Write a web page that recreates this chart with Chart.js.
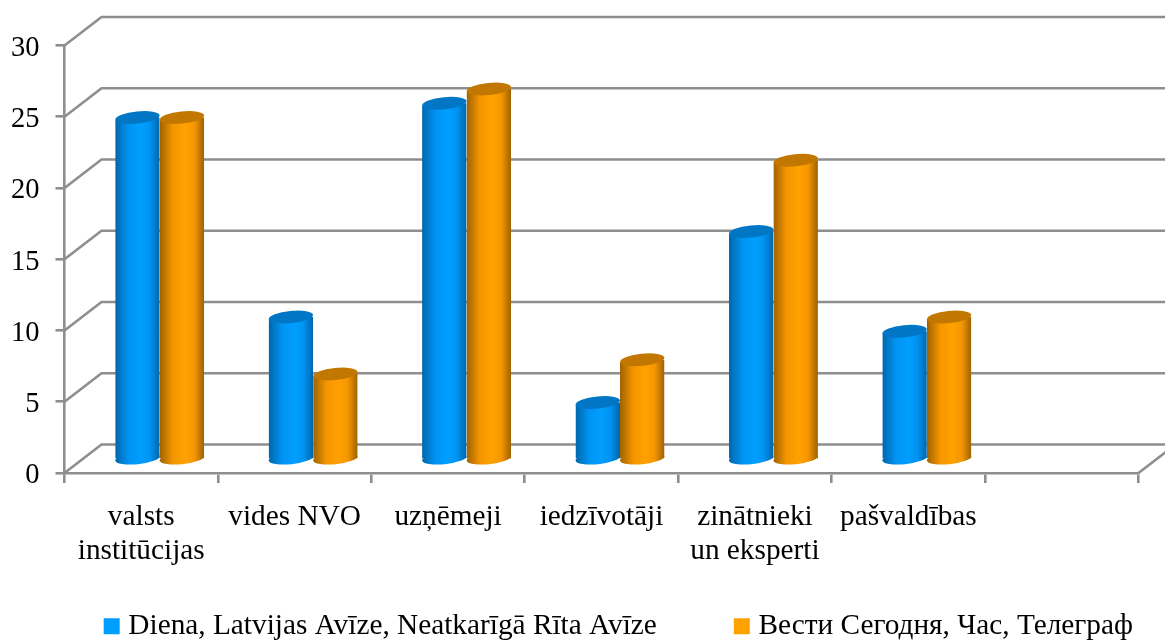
<!DOCTYPE html>
<html>
<head>
<meta charset="utf-8">
<style>html,body{margin:0;padding:0;background:#fff}#w{position:relative;width:1165px;height:641px}</style>
<script src="https://cdn.jsdelivr.net/npm/chart.js@4/dist/chart.umd.js"></script>
</head>
<body>
<div id="w"><canvas id="c"></canvas></div>
<script>
const categories = [["valsts","institūcijas"],"vides NVO","uzņēmeji","iedzīvotāji",["zinātnieki","un eksperti"],"pašvaldības",""];
const seriesA = [24,10,25,4,16,9,null];
const seriesB = [24,6,26,7,21,10,null];
const seriesNames = ["Diena, Latvijas Avīze, Neatkarīgā Rīta Avīze","Вести Сегодня, Час, Телеграф"];
const FONT = "'Liberation Serif','Times New Roman',serif";
const GRID = "#8e8e8e";
const DEPTH_X = 37, DEPTH_Y = 28.5;
const SHIFT_X = 18.5, SHIFT_Y = 13.5;
const RY = 6, TILT = -0.1;
const palette = [
  {flat:"#0093f2", edge:"#0066ab", mid:"#009fff", cap:"#0076c4"},
  {flat:"#f59600", edge:"#9f6200", mid:"#ffa200", cap:"#c27800"}
];
const CAT_FRAC = 0.58;
const LEGEND_GAP = 83;

function barGradient(c, ds){
  const x = c.chart.scales.x;
  const w = (x.getPixelForTick(1) - x.getPixelForTick(0)) * CAT_FRAC / 2;
  const cx = x.getPixelForTick(c.dataIndex) + (ds === 0 ? -w/2 : w/2);
  const g = c.chart.ctx.createLinearGradient(cx - w/2, 0, cx + w/2, 0);
  const p = palette[ds];
  g.addColorStop(0, p.edge); g.addColorStop(0.3, p.flat); g.addColorStop(0.58, p.mid);
  g.addColorStop(0.78, p.flat); g.addColorStop(1, p.edge);
  return g;
}
function fill(ds){
  return c => (c.type === 'data' && c.dataIndex !== undefined && c.chart.scales.x) ? barGradient(c, ds) : palette[ds].flat;
}

const cylinder3d = {
  id: 'cylinder3d',
  beforeLayout(chart){
    const l = chart.legend;
    if (l && !l._wide) {
      const u = l.update.bind(l);
      l.update = (w, h, m) => u(w + 200, h, m);
      l._wide = true;
    }
  },
  afterLayout(chart){
    const l = chart.legend;
    l.left = 0; l.right = 1133 + LEGEND_GAP;
    l.top = 626.2 - 14.65 - LEGEND_GAP;
  },
  beforeDatasetsDraw(chart){
    const {ctx, scales:{x,y}, chartArea:a} = chart;
    ctx.save();
    ctx.strokeStyle = GRID; ctx.lineWidth = 2.6; ctx.lineJoin = 'miter';
    y.ticks.forEach(t => {
      const py = y.getPixelForValue(t.value);
      ctx.beginPath(); ctx.moveTo(a.left, py);
      ctx.lineTo(a.left + DEPTH_X, py - DEPTH_Y);
      ctx.lineTo(a.right + DEPTH_X, py - DEPTH_Y);
      ctx.stroke();
    });
    const p0 = y.getPixelForValue(0);
    ctx.beginPath(); ctx.moveTo(a.right, p0); ctx.lineTo(a.right + DEPTH_X, p0 - DEPTH_Y); ctx.stroke();
    ctx.restore();
    // bottom rounds of the cylinders
    [0,1].forEach(d => chart.getDatasetMeta(d).data.forEach((el,i) => {
      if (chart.data.datasets[d].data[i] == null) return;
      ctx.save(); ctx.translate(SHIFT_X, -SHIFT_Y);
      ctx.fillStyle = barGradient({chart, dataIndex:i}, d);
      ctx.beginPath(); ctx.ellipse(el.x, el.base, el.width/2, RY, TILT, 0, Math.PI*2); ctx.fill();
      ctx.restore();
    }));
  },
  beforeDatasetDraw(chart, args){
    const ctx = chart.ctx;
    ctx.save(); ctx.translate(SHIFT_X, -SHIFT_Y);
    ctx.beginPath();
    args.meta.data.forEach((el,i) => {
      if (chart.data.datasets[args.index].data[i] == null) return;
      const dy = Math.tan(-TILT) * el.width/2;
      ctx.moveTo(el.x - el.width/2, el.y + dy);
      ctx.lineTo(el.x + el.width/2, el.y - dy);
      ctx.lineTo(el.x + el.width/2, el.base + 10);
      ctx.lineTo(el.x - el.width/2, el.base + 10);
      ctx.closePath();
    });
    ctx.clip();
  },
  afterDatasetDraw(chart){ chart.ctx.restore(); },
  afterDatasetsDraw(chart){
    const ctx = chart.ctx;
    [0,1].forEach(d => chart.getDatasetMeta(d).data.forEach((el,i) => {
      if (chart.data.datasets[d].data[i] == null) return;
      ctx.save(); ctx.translate(SHIFT_X, -SHIFT_Y);
      ctx.fillStyle = palette[d].cap;
      ctx.beginPath(); ctx.ellipse(el.x, el.y, el.width/2, RY, TILT, 0, Math.PI*2); ctx.fill();
      ctx.restore();
    }));
  }
};

new Chart(document.getElementById('c'), {
  type: 'bar',
  data: {
    labels: categories,
    datasets: [
      {label: seriesNames[0], data: seriesA, backgroundColor: fill(0), categoryPercentage: CAT_FRAC, barPercentage: 1, clip: false},
      {label: seriesNames[1], data: seriesB, backgroundColor: fill(1), categoryPercentage: CAT_FRAC, barPercentage: 1, clip: false}
    ]
  },
  options: {
    responsive: true, maintainAspectRatio: false, animation: false,
    layout: {padding: {left: 0, top: 45.5, right: 26.5, bottom: 0}},
    scales: {
      x: {
        grid: {drawOnChartArea: false, color: GRID, lineWidth: 2.6, tickLength: 10},
        border: {color: GRID, width: 2.6},
        ticks: {font: {family: FONT, size: 29.3, lineHeight: 1.17}, color: "#000", maxRotation: 0, minRotation: 0, autoSkip: false, padding: 17},
        afterFit(s){ s.height = 108; }
      },
      y: {
        min: 0, max: 30,
        grid: {drawOnChartArea: false, color: GRID, lineWidth: 2.6, tickLength: 9},
        border: {color: GRID, width: 2.6},
        ticks: {font: {family: FONT, size: 28.5}, color: "#000", stepSize: 5, padding: 16, labelOffset: 3},
        afterFit(s){ s.width = 64.5; }
      }
    },
    plugins: {
      tooltip: {enabled: false},
      legend: {
        position: 'bottom', align: 'end', maxHeight: 60,
        labels: {
          font: {family: FONT, size: 29.3}, color: "#000", padding: LEGEND_GAP, boxWidth: 4, boxHeight: 4,
          generateLabels(chart){
            return chart.data.datasets.map((d,i) => ({
              text: d.label, fillStyle: palette[i].mid, strokeStyle: palette[i].mid,
              lineWidth: 12, datasetIndex: i, hidden: false, fontColor: "#000"
            }));
          }
        }
      }
    }
  },
  plugins: [cylinder3d]
});
</script>
</body>
</html>
